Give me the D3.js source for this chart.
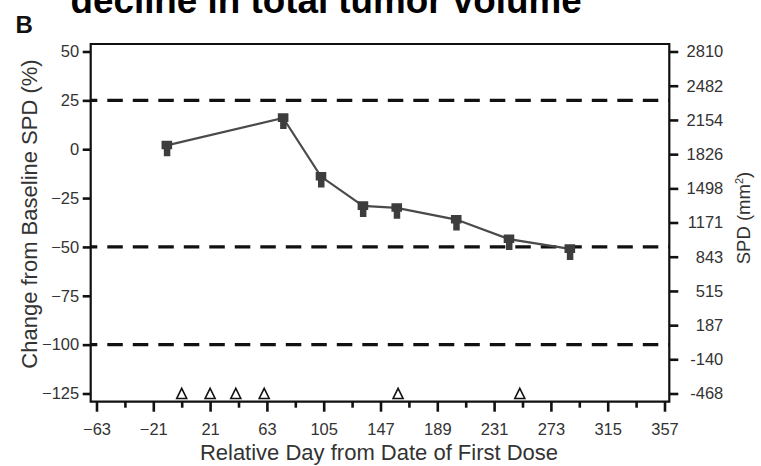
<!DOCTYPE html>
<html>
<head>
<meta charset="utf-8">
<script src="https://cdn.jsdelivr.net/npm/d3@7"></script>
<style>
  html, body { margin: 0; padding: 0; background: #fff; }
  svg { display: block; font-family: "Liberation Sans", Arial, Helvetica, sans-serif; }
</style>
</head>
<body>
<svg id="chart" width="761" height="466"></svg>
<script>
// Tumour burden over time: % change from baseline SPD (left) and absolute SPD (right)
const days = [-11, 75, 103, 134, 159, 203, 242, 287];
const changePct = [2, 16, -14, -29, -30, -36, -46, -51];
const doseDays = [0, 21, 40, 61, 160, 250];
const refLines = [25, -50, -100];
const leftTicks = [50, 25, 0, -25, -50, -75, -100, -125];
const rightTicks = [2810, 2482, 2154, 1826, 1498, 1171, 843, 515, 187, -140, -468];
const xMajorTicks = [-63, -21, 21, 63, 105, 147, 189, 231, 273, 315, 357];
const xMinorTicks = [-42, 0, 42, 84, 126, 168, 210, 252, 294, 336];

const svg = d3.select("#chart");

// plot frame (axes are offset slightly from the data range)
const frame = { left: 90.7, right: 669.3, top: 44, bottom: 401.7 };

const x = d3.scaleLinear().domain([-63, 357]).range([96.5, 664.5]);
const y = d3.scaleLinear().domain([-125, 50]).range([393.5, 51.5]);
const yRight = d3.scaleLinear().domain([-468, 2810]).range([393.5, 51.5]);

const tickFont = "16.5px";
const labelColor = "#333";

// dashed reference levels
svg.append("g")
  .selectAll("line")
  .data(refLines)
  .join("line")
  .attr("x1", frame.left)
  .attr("x2", frame.right)
  .attr("y1", d => y(d))
  .attr("y2", d => y(d))
  .attr("stroke", "#111")
  .attr("stroke-width", 3.2)
  .attr("stroke-dasharray", "15.5 10")
  .attr("stroke-dashoffset", 8.9);

// frame
svg.append("path")
  .attr("d", `M${frame.left},${frame.top}H${frame.right}V${frame.bottom}H${frame.left}Z`)
  .attr("fill", "none")
  .attr("stroke", "#111")
  .attr("stroke-width", 2.2);

function styleAxis(g) {
  g.select(".domain").remove();
  g.selectAll(".tick line").attr("stroke", "#111").attr("stroke-width", 2.6);
  g.selectAll(".tick text")
    .attr("fill", labelColor)
    .style("font-size", tickFont)
    .style("font-family", "'Liberation Sans', Arial, sans-serif");
}

// left axis
svg.append("g")
  .attr("transform", `translate(${frame.left},0)`)
  .call(d3.axisLeft(y).tickValues(leftTicks).tickSize(8).tickPadding(3.5).tickFormat(d3.format("d")))
  .call(styleAxis);

// right axis
const rAxis = svg.append("g")
  .attr("transform", `translate(${frame.right},0)`)
  .call(d3.axisRight(yRight).tickValues(rightTicks).tickSize(9).tickFormat(d => String(d)))
  .call(styleAxis);
rAxis.selectAll(".tick text").attr("text-anchor", "end").attr("x", 54);

// bottom axis: major labelled ticks and minor unlabelled ones
svg.append("g")
  .attr("transform", `translate(0,${frame.bottom})`)
  .call(d3.axisBottom(x).tickValues(xMajorTicks).tickSize(10).tickPadding(12).tickFormat(d3.format("d")))
  .call(styleAxis);

svg.append("g")
  .attr("transform", `translate(0,${frame.bottom})`)
  .call(d3.axisBottom(x).tickValues(xMinorTicks).tickSize(6).tickFormat(""))
  .call(styleAxis);

// dosing markers (open triangles along the bottom)
svg.append("g")
  .selectAll("path")
  .data(doseDays)
  .join("path")
  .attr("d", d => {
    const cx = x(d), cy = y(-125);
    return `M${cx},${cy - 5.2}L${cx + 5},${cy + 5}L${cx - 5},${cy + 5}Z`;
  })
  .attr("fill", "#fff")
  .attr("stroke", "#111")
  .attr("stroke-width", 1.6)
  .attr("stroke-linejoin", "miter");

// series line
const pts = days.map((d, i) => [d, changePct[i]]);
svg.append("path")
  .datum(pts)
  .attr("d", d3.line().x(p => x(p[0])).y(p => y(p[1])))
  .attr("fill", "none")
  .attr("stroke", "#4a4a4a")
  .attr("stroke-width", 2.2);

// series markers: square head with a narrower stem
svg.append("g")
  .selectAll("path")
  .data(pts)
  .join("path")
  .attr("d", p => {
    const cx = x(p[0]), cy = y(p[1]);
    return `M${cx - 5.3},${cy - 4.6}H${cx + 5.3}V${cy + 4}H${cx + 3.5}V${cy + 11}H${cx - 3}V${cy + 4}H${cx - 5.3}Z`;
  })
  .attr("fill", "#3d3d3d");

// axis titles
svg.append("text")
  .attr("transform", "translate(37,214) rotate(-90)")
  .attr("text-anchor", "middle")
  .attr("fill", labelColor)
  .style("font-size", "22px")
  .text("Change from Baseline SPD (%)");

const rt = svg.append("text")
  .attr("transform", "translate(750,218) rotate(-90)")
  .attr("text-anchor", "middle")
  .attr("fill", labelColor)
  .style("font-size", "18.5px");
rt.append("tspan").text("SPD (mm");
rt.append("tspan").attr("dy", -7).style("font-size", "11px").text("2");
rt.append("tspan").attr("dy", 7).text(")");

svg.append("text")
  .attr("x", 379)
  .attr("y", 459.5)
  .attr("text-anchor", "middle")
  .attr("fill", labelColor)
  .style("font-size", "22px")
  .text("Relative Day from Date of First Dose");

// panel letter and heading
svg.append("text")
  .attr("x", 15.6)
  .attr("y", 32.5)
  .attr("fill", "#111")
  .style("font-size", "24px")
  .style("font-weight", "bold")
  .text("B");

svg.append("text")
  .attr("x", 70.5)
  .attr("y", 12.5)
  .attr("fill", "#000")
  .style("font-size", "36.8px")
  .style("font-weight", "bold")
  .text("decline in total tumor volume");
</script>
</body>
</html>
